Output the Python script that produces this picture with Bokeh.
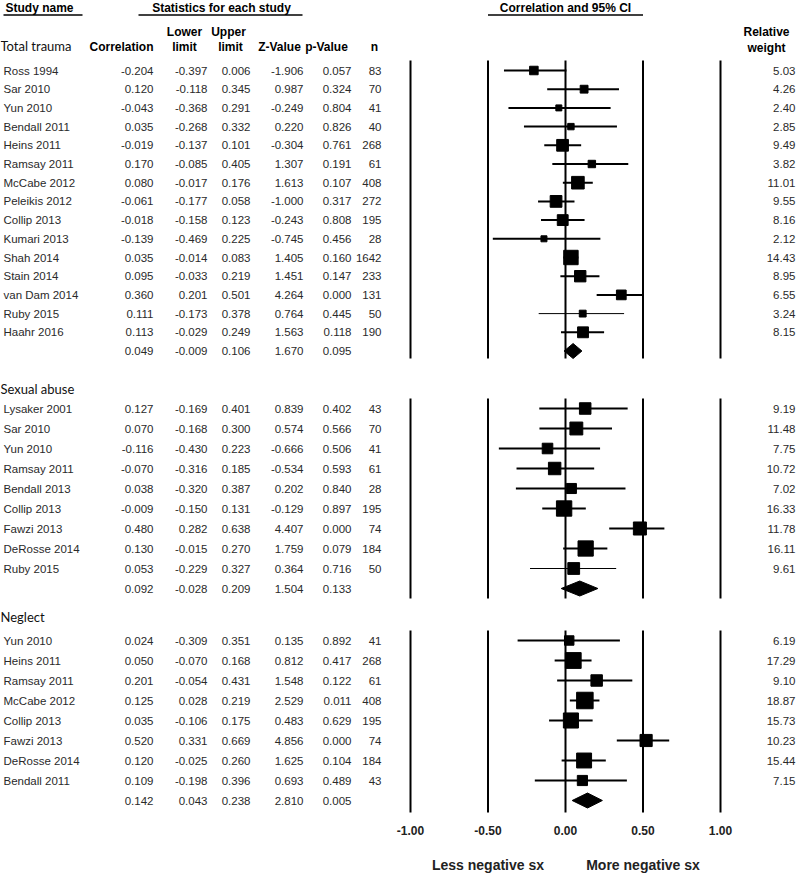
from bokeh.plotting import figure
from bokeh.models import Range1d
from bokeh.embed import file_html
from bokeh.resources import INLINE
from bokeh.core.properties import value
import math

# ---------------- data ----------------
section_titles = ["Total trauma", "Sexual abuse", "Neglect"]

tt_names = ["Ross 1994", "Sar 2010", "Yun 2010", "Bendall 2011", "Heins 2011", "Ramsay 2011",
            "McCabe 2012", "Peleikis 2012", "Collip 2013", "Kumari 2013", "Shah 2014",
            "Stain 2014", "van Dam 2014", "Ruby 2015", "Haahr 2016"]
tt_corr = [-0.204, 0.120, -0.043, 0.035, -0.019, 0.170, 0.080, -0.061, -0.018, -0.139, 0.035,
           0.095, 0.360, 0.111, 0.113]
tt_lower = [-0.397, -0.118, -0.368, -0.268, -0.137, -0.085, -0.017, -0.177, -0.158, -0.469, -0.014,
            -0.033, 0.201, -0.173, -0.029]
tt_upper = [0.006, 0.345, 0.291, 0.332, 0.101, 0.405, 0.176, 0.058, 0.123, 0.225, 0.083,
            0.219, 0.501, 0.378, 0.249]
tt_z = [-1.906, 0.987, -0.249, 0.220, -0.304, 1.307, 1.613, -1.000, -0.243, -0.745, 1.405,
        1.451, 4.264, 0.764, 1.563]
tt_p = [0.057, 0.324, 0.804, 0.826, 0.761, 0.191, 0.107, 0.317, 0.808, 0.456, 0.160,
        0.147, 0.000, 0.445, 0.118]
tt_n = [83, 70, 41, 40, 268, 61, 408, 272, 195, 28, 1642, 233, 131, 50, 190]
tt_weight = [5.03, 4.26, 2.40, 2.85, 9.49, 3.82, 11.01, 9.55, 8.16, 2.12, 14.43, 8.95, 6.55, 3.24, 8.15]
tt_summary = [0.049, -0.009, 0.106, 1.670, 0.095]

sa_names = ["Lysaker 2001", "Sar 2010", "Yun 2010", "Ramsay 2011", "Bendall 2013", "Collip 2013",
            "Fawzi 2013", "DeRosse 2014", "Ruby 2015"]
sa_corr = [0.127, 0.070, -0.116, -0.070, 0.038, -0.009, 0.480, 0.130, 0.053]
sa_lower = [-0.169, -0.168, -0.430, -0.316, -0.320, -0.150, 0.282, -0.015, -0.229]
sa_upper = [0.401, 0.300, 0.223, 0.185, 0.387, 0.131, 0.638, 0.270, 0.327]
sa_z = [0.839, 0.574, -0.666, -0.534, 0.202, -0.129, 4.407, 1.759, 0.364]
sa_p = [0.402, 0.566, 0.506, 0.593, 0.840, 0.897, 0.000, 0.079, 0.716]
sa_n = [43, 70, 41, 61, 28, 195, 74, 184, 50]
sa_weight = [9.19, 11.48, 7.75, 10.72, 7.02, 16.33, 11.78, 16.11, 9.61]
sa_summary = [0.092, -0.028, 0.209, 1.504, 0.133]

ne_names = ["Yun 2010", "Heins 2011", "Ramsay 2011", "McCabe 2012", "Collip 2013", "Fawzi 2013",
            "DeRosse 2014", "Bendall 2011"]
ne_corr = [0.024, 0.050, 0.201, 0.125, 0.035, 0.520, 0.120, 0.109]
ne_lower = [-0.309, -0.070, -0.054, 0.028, -0.106, 0.331, -0.025, -0.198]
ne_upper = [0.351, 0.168, 0.431, 0.219, 0.175, 0.669, 0.260, 0.396]
ne_z = [0.135, 0.812, 1.548, 2.529, 0.483, 4.856, 1.625, 0.693]
ne_p = [0.892, 0.417, 0.122, 0.011, 0.629, 0.000, 0.104, 0.489]
ne_n = [41, 268, 61, 408, 195, 74, 184, 43]
ne_weight = [6.19, 17.29, 9.10, 18.87, 15.73, 10.23, 15.44, 7.15]
ne_summary = [0.142, 0.043, 0.238, 2.810, 0.005]

tick_values = [-1.0, -0.5, 0.0, 0.5, 1.0]
tick_labels = ["-1.00", "-0.50", "0.00", "0.50", "1.00"]
favours = ["Less negative sx", "More negative sx"]

# ---------------- layout (reference pixel frame 800 x 878) ----------------
W, H = 800, 878
X0, XS = 565.0, 155.0            # pixel of r = 0, pixels per unit of r


def xv(px):
    return (px - X0) / XS


p = figure(width=W, height=H, x_range=Range1d(xv(0), xv(800)), y_range=Range1d(878, 0),
           output_backend="svg", toolbar_location=None, x_axis_type=None, y_axis_type=None,
           min_border=0)
p.grid.visible = False
p.outline_line_color = None

ARIAL = value("Liberation Sans")
CAL = value("Lato")
TXT = "#2a2a2a"
HDR = "12px"
DAT = "11.5px"


def txt(x, y, t, size=DAT, align="left", bold=False, color=TXT, font=ARIAL):
    p.text(x=x, y=y, text=t, text_font=font, text_font_size=size, text_align=align,
           text_baseline="middle", text_color=color, text_font_style="bold" if bold else "normal")


# headers
txt([xv(5)], [7], ["Study name"], size=HDR, bold=True, color="black")
txt([xv(221)], [7], ["Statistics for each study"], size=HDR, align="center", bold=True, color="black")
txt([0.0], [7], ["Correlation and 95% CI"], size=HDR, align="center", bold=True, color="black")
p.segment(x0=[xv(3), xv(138), -0.5], y0=[14.5] * 3, x1=[xv(82), xv(302), 0.5], y1=[14.5] * 3,
          line_color="black", line_width=1.3)
txt([xv(153)], [46], ["Correlation"], size=HDR, align="right", bold=True, color="black")
txt([xv(184), xv(228)], [31, 31], ["Lower", "Upper"], size=HDR, align="center", bold=True, color="black")
txt([xv(184), xv(230), xv(279), xv(326), xv(374)], [46] * 5,
    ["limit", "limit", "Z-Value", "p-Value", "n"], size=HDR, align="center", bold=True, color="black")
txt([xv(766), xv(766)], [31, 47], ["Relative", "weight"], size=HDR, align="center", bold=True,
    color="black")

col_x = {"corr": xv(153), "lo": xv(207), "up": xv(250), "z": xv(303), "p": xv(351), "n": xv(381)}

sections = [
    (tt_names, tt_corr, tt_lower, tt_upper, tt_z, tt_p, tt_n, tt_weight, tt_summary, 45, 70, 18.7, 60, 358),
    (sa_names, sa_corr, sa_lower, sa_upper, sa_z, sa_p, sa_n, sa_weight, sa_summary, 388, 408, 20.0, 398, 598),
    (ne_names, ne_corr, ne_lower, ne_upper, ne_z, ne_p, ne_n, ne_weight, ne_summary, 616, 640, 20.0, 630, 812),
]

for si, (names, corr, lo, up, z, pv, n, wt, summ, hy, y0, dy, ltop, lbot) in enumerate(sections):
    ys = [y0 + dy * i for i in range(len(names))]
    ysum = y0 + dy * len(names)
    txt([xv(0)], [hy], [section_titles[si]], size="13px", font=CAL, color="#111")
    txt([xv(3)] * len(names), ys, names)
    txt([col_x["corr"]] * len(ys), ys, [f"{v:.3f}" for v in corr], align="right")
    txt([col_x["lo"]] * len(ys), ys, [f"{v:.3f}" for v in lo], align="right")
    txt([col_x["up"]] * len(ys), ys, [f"{v:.3f}" for v in up], align="right")
    txt([col_x["z"]] * len(ys), ys, [f"{v:.3f}" for v in z], align="right")
    txt([col_x["p"]] * len(ys), ys, [f"{v:.3f}" for v in pv], align="right")
    txt([col_x["n"]] * len(ys), ys, [str(v) for v in n], align="right")
    txt([xv(795)] * len(ys), ys, [f"{v:.2f}" for v in wt], align="right")
    # summary row
    txt([col_x["corr"], col_x["lo"], col_x["up"], col_x["z"], col_x["p"]], [ysum] * 5,
        [f"{v:.3f}" for v in summ], align="right")
    # reference lines
    p.segment(x0=tick_values, y0=[ltop] * 5, x1=tick_values, y1=[lbot] * 5,
              line_color="black", line_width=2)
    # CIs
    lw = [1.0 if nm.startswith("Ruby") else 2.0 for nm in names]
    p.segment(x0=lo, y0=ys, x1=up, y1=ys, line_color="black", line_width=lw)
    p.scatter(x=corr, y=ys, size=[max(6.0, 3.8 * math.sqrt(w)) for w in wt], marker="square",
              fill_color="black", line_color="black")
    # diamond
    e, l, u = summ[0], summ[1], summ[2]
    p.patches(xs=[[l, e, u, e]], ys=[[ysum, ysum - 7.5, ysum, ysum + 7.5]],
              fill_color="black", line_color="black")

# axis labels
txt(tick_values, [830] * 5, tick_labels, size="12px", align="center", bold=True, color="#222")
txt([-0.5, 0.5], [864, 864], favours, size="14px", align="center", bold=True, color="#222")

open("out.html", "w").write(file_html(p, INLINE))
